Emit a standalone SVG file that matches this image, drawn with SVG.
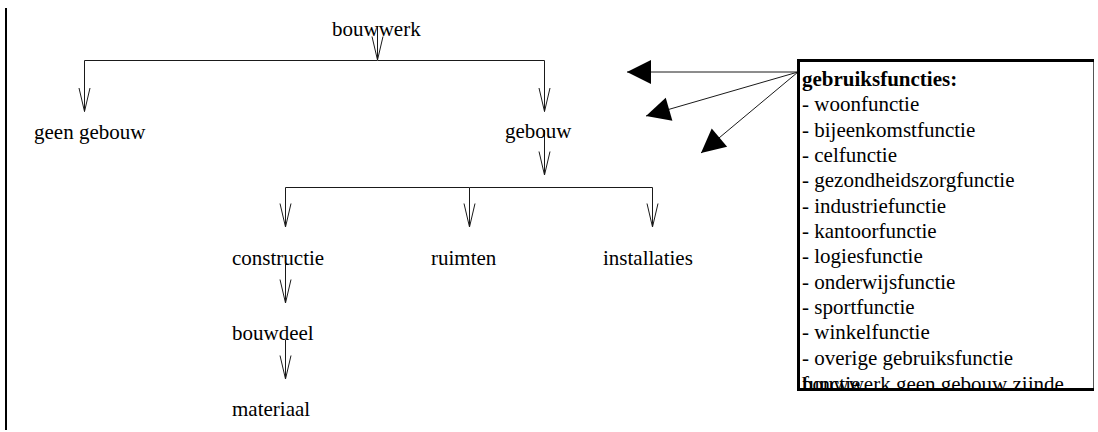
<svg xmlns="http://www.w3.org/2000/svg" width="1098" height="432" viewBox="0 0 1098 432">
<style>
text{font-family:"Liberation Serif","Times New Roman",serif;font-size:21px;fill:#000}
.b{font-weight:bold}
.c{fill:none;stroke:#1a1a1a;stroke-width:1}
.v{marker-end:url(#open)}
.f{marker-end:url(#solid)}
</style>
<defs>
<marker id="open" viewBox="-25 -7 27 14" refX="0" refY="0" markerWidth="27" markerHeight="14" markerUnits="userSpaceOnUse" orient="auto">
<path d="M-23.5,-5.5 L0,0 L-23.5,5.5" fill="none" stroke="#1a1a1a" stroke-width="1"/>
</marker>
<marker id="solid" viewBox="-25 -13 26 26" refX="0" refY="0" markerWidth="26" markerHeight="26" markerUnits="userSpaceOnUse" orient="auto">
<path d="M-24,-12 L0,0 L-24,12 Z" fill="#000"/>
</marker>
<clipPath id="boxclip"><rect x="798" y="60" width="295" height="329"/></clipPath>
</defs>
<line x1="6" y1="8" x2="6" y2="430" stroke="#000" stroke-width="2"/>
<g id="connectors">
<path class="c v" d="M377.5,26 V60"/>
<path class="c v" d="M377.5,60.5 H84.5 V111.5"/>
<path class="c v" d="M377.5,60.5 H544.5 V111.5"/>
<path class="c v" d="M544.5,130 V175"/>
<path class="c v" d="M469.5,187.5 H285.5 V227"/>
<path class="c v" d="M469.5,187.5 V227"/>
<path class="c v" d="M469.5,187.5 H652.5 V227"/>
<path class="c v" d="M285.5,264 V303"/>
<path class="c v" d="M285.5,340 V379"/>
<path class="c f" d="M798,72 L627,72"/>
<path class="c f" d="M798,72 L646,116"/>
<path class="c f" d="M798,72 L701,153"/>
</g>
<g id="n-bouwwerk"><text x="332" y="36">bouwwerk</text></g>
<g id="n-geen-gebouw"><text x="34" y="139">geen gebouw</text></g>
<g id="n-gebouw"><text x="505" y="138">gebouw</text></g>
<g id="n-constructie"><text x="232" y="265">constructie</text></g>
<g id="n-ruimten"><text x="431" y="265">ruimten</text></g>
<g id="n-installaties"><text x="603" y="265">installaties</text></g>
<g id="n-bouwdeel"><text x="232" y="340">bouwdeel</text></g>
<g id="n-materiaal"><text x="232" y="416">materiaal</text></g>
<g id="n-gebruiksfuncties">
<rect x="798" y="60" width="295" height="330" fill="#fff"/>
<g clip-path="url(#boxclip)">
<text class="b" x="802" y="86">gebruiksfuncties:</text>
<text x="802" y="111.3">- woonfunctie</text>
<text x="802" y="136.7">- bijeenkomstfunctie</text>
<text x="802" y="162">- celfunctie</text>
<text x="802" y="187.3">- gezondheidszorgfunctie</text>
<text x="802" y="212.7">- industriefunctie</text>
<text x="802" y="238">- kantoorfunctie</text>
<text x="802" y="263.3">- logiesfunctie</text>
<text x="802" y="288.7">- onderwijsfunctie</text>
<text x="802" y="314">- sportfunctie</text>
<text x="802" y="339.3">- winkelfunctie</text>
<text x="802" y="364.7">- overige gebruiksfunctie</text>
<text x="802" y="391">functie</text>
<text x="802" y="391">bouwwerk geen gebouw zijnde</text>
</g>
<line x1="1093.5" y1="60" x2="1093.5" y2="390" stroke="#555" stroke-width="1"/>
<line x1="797" y1="60.5" x2="1094" y2="60.5" stroke="#000" stroke-width="3"/>
<line x1="798.5" y1="59" x2="798.5" y2="391" stroke="#000" stroke-width="3"/>
<line x1="797" y1="389.5" x2="1094" y2="389.5" stroke="#000" stroke-width="3"/>
</g>
</svg>
